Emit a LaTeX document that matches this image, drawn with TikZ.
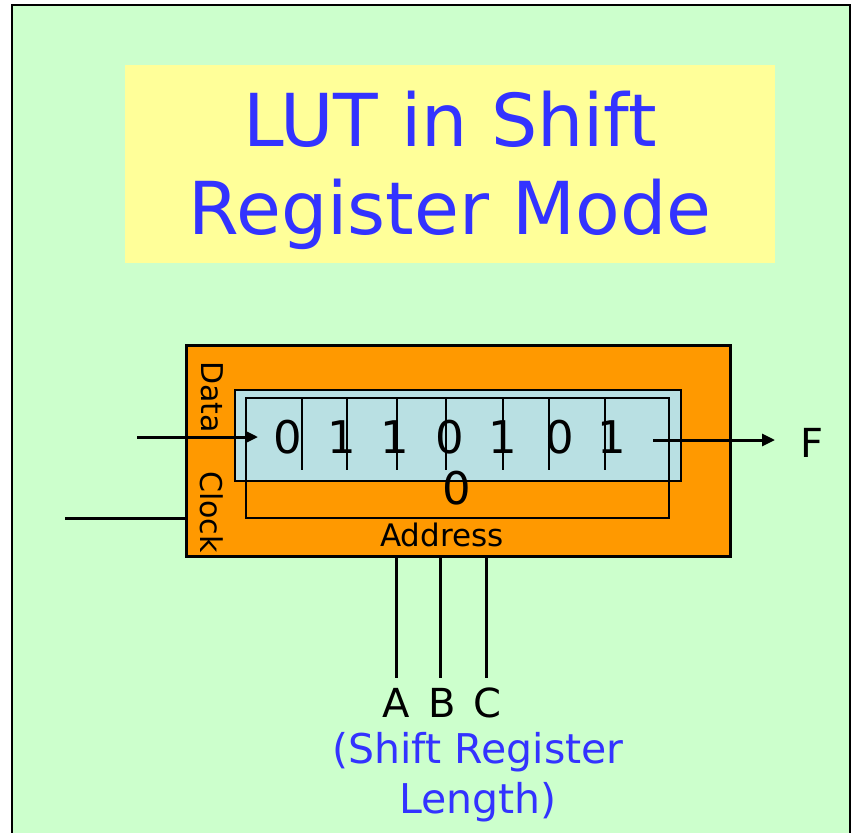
\documentclass[tikz,border=0pt]{standalone}
\usepackage{fontspec}
\setmainfont{DejaVu Sans}
\usetikzlibrary{arrows.meta,positioning}
\definecolor{slidegreen}{HTML}{CCFFCC}
\definecolor{titleyellow}{HTML}{FFFF99}
\definecolor{lutorange}{HTML}{FF9900}
\definecolor{regblue}{HTML}{B9E0E3}
\definecolor{textblue}{HTML}{3333FF}

\begin{document}
\begin{tikzpicture}[x=1pt,y=-1pt,>={Triangle[length=13pt,width=12pt]},
  wire/.style={line width=3pt},
  bit/.style={font=\fontsize{45}{45}\selectfont,inner sep=0pt},
  side/.style={font=\fontsize{30}{30}\selectfont,rotate=-90,inner sep=0pt},
  pin/.style={font=\fontsize{40}{40}\selectfont,inner sep=0pt}]
\clip (0,0) rectangle (860,833);
\fill[white] (0,0) rectangle (860,833);
\draw[fill=slidegreen,line width=1.5pt] (12,5) rectangle (850,860);
% title
\node[fill=titleyellow,minimum width=650pt,minimum height=198pt,inner sep=0pt] (titlebox) at (450,164) {};
\node[text=textblue,align=center,font=\fontsize{73}{88}\selectfont] (title) at (450,170) {LUT in Shift\\Register Mode};
% LUT block
\node[draw,line width=3pt,fill=lutorange,minimum width=544pt,minimum height=211pt,inner sep=0pt] (lut) at (458,450.5) {};
\node[draw,line width=1.5pt,fill=regblue,minimum width=446pt,minimum height=91pt,inner sep=0pt] (reg) at (458,435.5) {};
\node[draw,line width=2pt,minimum width=423pt,minimum height=120pt,inner sep=0pt] (mux) at (457.5,458) {};
\foreach \x in {302,347,397,446,503,549,605}
  \draw[line width=2pt] (\x,398) -- (\x,470);
\foreach \b/\x [count=\i] in {0/288,1/342,1/395,0/450,1/503,0/560,1/612}
  \node[bit] (bit\i) at (\x,437) {\b};
\node[bit] (zero) at (457,488) {0};
\node[font=\fontsize{31}{31}\selectfont,inner sep=0pt] (addr) at (442,535) {Address};
\node[side] (data) at (212,397) {Data};
\node[side] (clock) at (212,512) {Clock};
% inputs and output
\coordinate (din) at (137,437);
\coordinate (dtip) at (258,437);
\draw[wire,->] (din) -- (dtip);
\coordinate (clk) at (65,518);
\draw[wire] (clk) -- (clk -| lut.west);
\coordinate (dout) at (653,440);
\coordinate (ftip) at (775,440);
\node[pin] (f) at (812,443) {F};
\draw[wire,->] (dout) -- (ftip);
% address lines
\foreach \n/\x in {A/396,B/442,C/487}
  \node[pin] (\n) at (\x,703) {\n};
\foreach \n/\x in {A/396,B/440,C/486}
  \draw[wire,shorten >=10pt] (\x,556) -- (\x,688);
\node[text=textblue,align=center,font=\fontsize{41}{50}\selectfont] (len) at (478,777) {(Shift Register\\Length)};
\end{tikzpicture}
\end{document}
